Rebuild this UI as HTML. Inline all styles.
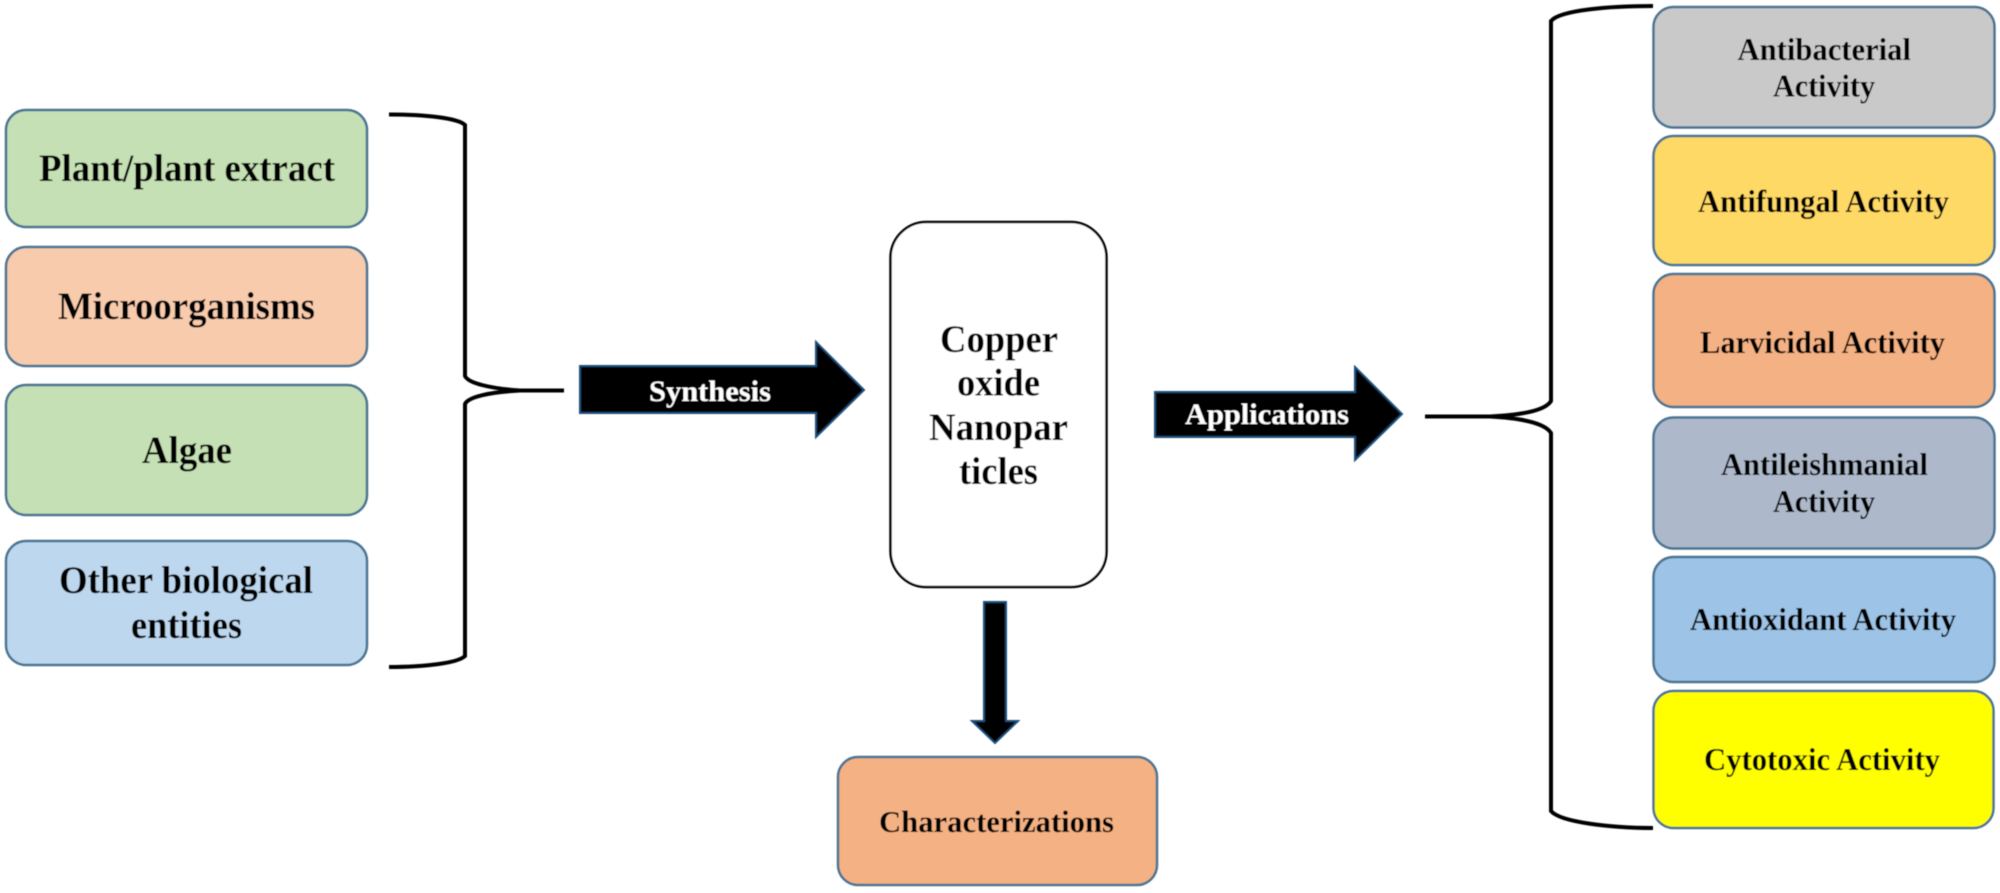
<!DOCTYPE html>
<html>
<head>
<meta charset="utf-8">
<style>
html,body{margin:0;padding:0;background:#fff;}
svg{display:block;}
text{font-family:"Liberation Serif",serif;font-weight:bold;fill:#000;}
.b{stroke:#4a7392;stroke-width:2.5;}
.br{fill:none;stroke:#000;stroke-width:4;}
.ar{fill:#000;stroke:#1f4e79;stroke-width:2;}
</style>
</head>
<body>
<svg width="2000" height="893" viewBox="0 0 2000 893" xmlns="http://www.w3.org/2000/svg">
<defs><filter id="s" x="-2%" y="-2%" width="104%" height="104%"><feGaussianBlur stdDeviation="0.6"/></filter></defs>
<rect width="2000" height="893" fill="#fff"/>
<g filter="url(#s)">
<!-- left boxes -->
<rect class="b" x="6" y="110" width="361" height="117" rx="20" fill="#c5e0b4"/>
<rect class="b" x="6" y="247" width="361" height="119" rx="20" fill="#f8cbad"/>
<rect class="b" x="6" y="385" width="361" height="130" rx="20" fill="#c5e0b4"/>
<rect class="b" x="6" y="541" width="361" height="124" rx="20" fill="#bdd7ee"/>
<text x="39" y="181" font-size="39" textLength="296" lengthAdjust="spacingAndGlyphs">Plant/plant extract</text>
<text x="58" y="319" font-size="39" textLength="257" lengthAdjust="spacingAndGlyphs">Microorganisms</text>
<text x="142" y="463" font-size="39" textLength="90" lengthAdjust="spacingAndGlyphs">Algae</text>
<text x="59" y="593" font-size="39" textLength="254" lengthAdjust="spacingAndGlyphs">Other biological</text>
<text x="131" y="638" font-size="39" textLength="111" lengthAdjust="spacingAndGlyphs">entities</text>
<!-- left brace -->
<path class="br" d="M389 114.5 C425 114.5 458 118 465 125 L465 376 C468 383 490 388.5 520 390.5 L564 390.5 M520 390.5 C490 392 468 397 465 404 L465 656 C458 663 425 667 389 667"/>
<!-- synthesis arrow -->
<path class="ar" d="M580 366 L816 366 L816 342 L864 390 L816 437 L816 413 L580 413 Z"/>
<text x="649" y="401" font-size="30" style="fill:#fff" textLength="122" lengthAdjust="spacingAndGlyphs">Synthesis</text>
<!-- centre box -->
<rect x="890.5" y="222" width="216" height="365" rx="36" fill="#fff" stroke="#000" stroke-width="2.5"/>
<text x="940" y="352" font-size="39" textLength="118" lengthAdjust="spacingAndGlyphs">Copper</text>
<text x="957" y="395.5" font-size="39" textLength="83" lengthAdjust="spacingAndGlyphs">oxide</text>
<text x="929" y="440" font-size="39" textLength="139" lengthAdjust="spacingAndGlyphs">Nanopar</text>
<text x="959" y="484" font-size="39" textLength="79" lengthAdjust="spacingAndGlyphs">ticles</text>
<!-- applications arrow -->
<path class="ar" d="M1155 392 L1355 392 L1355 367 L1402 414 L1355 460 L1355 437 L1155 437 Z"/>
<text x="1185" y="424" font-size="30" style="fill:#fff" textLength="164" lengthAdjust="spacingAndGlyphs">Applications</text>
<!-- down arrow -->
<path class="ar" d="M984 602 L1006 602 L1006 721 L1018 721 L995 743 L972 721 L984 721 Z"/>
<!-- characterizations -->
<rect class="b" x="838" y="757" width="319" height="128" rx="20" fill="#f4b183"/>
<text x="879" y="832" font-size="31" textLength="235" lengthAdjust="spacingAndGlyphs">Characterizations</text>
<!-- right brace -->
<path class="br" d="M1653 6 C1610 6 1560 10 1551 21 L1551 401 C1545 411 1520 415 1490 416.5 L1425 416.5 M1490 416.5 C1520 418 1545 423 1551 433 L1551 811 C1560 822 1610 828 1653 828"/>
<!-- right boxes -->
<rect class="b" x="1653.5" y="7" width="341" height="120.5" rx="20" fill="#c9c9c9"/>
<rect class="b" x="1653.5" y="136" width="341" height="129" rx="20" fill="#ffd966"/>
<rect class="b" x="1653.5" y="274" width="341" height="133" rx="20" fill="#f4b183"/>
<rect class="b" x="1653.5" y="417.5" width="341" height="131" rx="20" fill="#adb9ca"/>
<rect class="b" x="1653.5" y="557" width="341" height="125" rx="20" fill="#9dc3e6"/>
<rect class="b" x="1653.5" y="691" width="340" height="137" rx="20" fill="#ffff00"/>
<text x="1737.5" y="60" font-size="32" textLength="173.5" lengthAdjust="spacingAndGlyphs">Antibacterial</text>
<text x="1773" y="96.7" font-size="32" textLength="102" lengthAdjust="spacingAndGlyphs">Activity</text>
<text x="1698" y="212" font-size="32" textLength="251" lengthAdjust="spacingAndGlyphs">Antifungal Activity</text>
<text x="1700" y="353" font-size="32" textLength="245" lengthAdjust="spacingAndGlyphs">Larvicidal Activity</text>
<text x="1721" y="475" font-size="32" textLength="207" lengthAdjust="spacingAndGlyphs">Antileishmanial</text>
<text x="1773" y="512" font-size="32" textLength="102" lengthAdjust="spacingAndGlyphs">Activity</text>
<text x="1690" y="630" font-size="32" textLength="266" lengthAdjust="spacingAndGlyphs">Antioxidant Activity</text>
<text x="1704" y="770" font-size="32" textLength="236" lengthAdjust="spacingAndGlyphs">Cytotoxic Activity</text>
</g>
</svg>
</body>
</html>
